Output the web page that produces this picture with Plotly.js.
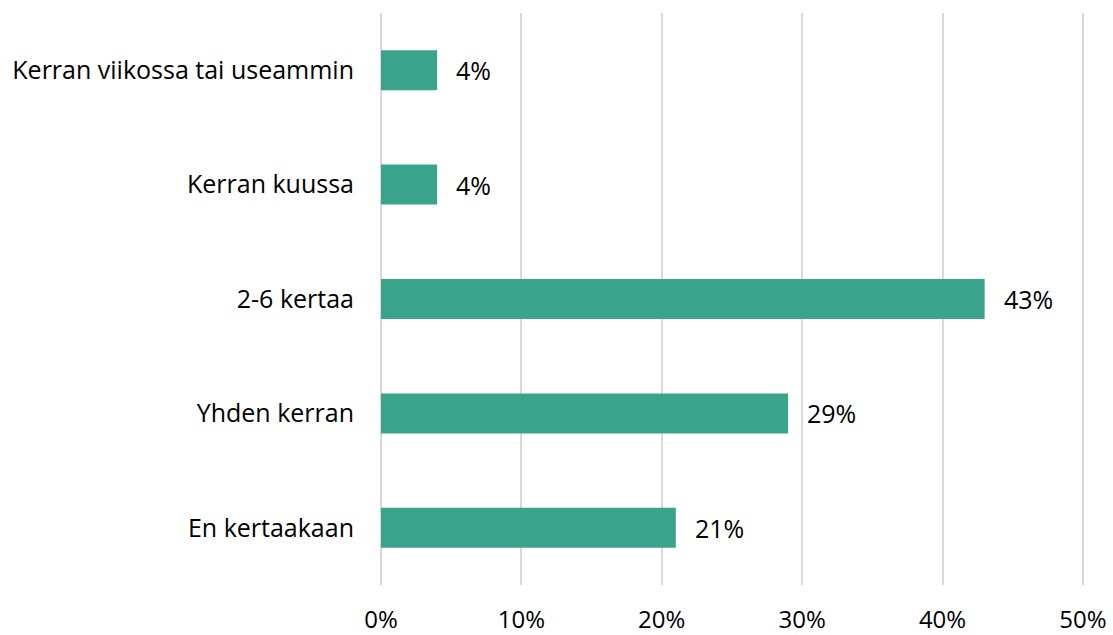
<!DOCTYPE html>
<html><head><meta charset="utf-8">
<script src="https://cdn.plot.ly/plotly-3.0.1.min.js"></script>
<style>html,body{margin:0;padding:0;background:#fff;}#chart{width:1113px;height:635px;}</style>
</head><body><div id="chart"></div>
<script>
const categories = ["Kerran viikossa tai useammin", "Kerran kuussa", "2-6 kertaa", "Yhden kerran", "En kertaakaan"];
const values = [0.04, 0.04, 0.43, 0.29, 0.21];
const valueLabels = ["4%", "4%", "43%", "29%", "21%"];
const tickVals = [0, 0.1, 0.2, 0.3, 0.4, 0.5];
const tickText = ["0%", "10%", "20%", "30%", "40%", "50%"];

const fontFam = "'Open Sans', sans-serif";
const trace = {
  type: "bar", orientation: "h",
  y: categories, x: values,
  marker: {color: "#3AA38C"},
  width: 0.35,
  hoverinfo: "skip"
};
const annotations = categories.map((c, i) => ({
  x: values[i], y: c, xref: "x", yref: "y",
  text: valueLabels[i], showarrow: false,
  xanchor: "left", yanchor: "middle", xshift: 17,
  font: {family: fontFam, size: 25, color: "#000"}
}));
const layout = {
  width: 1113, height: 635,
  margin: {l: 381, r: 28, t: 13, b: 50},
  paper_bgcolor: "#fff", plot_bgcolor: "#fff",
  font: {family: fontFam, size: 24, color: "#000"},
  showlegend: false,
  xaxis: {
    range: [0, 0.5015], tickvals: tickVals, ticktext: tickText,
    showgrid: true, gridcolor: "#d9d9d9", gridwidth: 2,
    zeroline: true, zerolinecolor: "#d9d9d9", zerolinewidth: 2,
    showline: false, ticks: "",
    tickfont: {family: fontFam, size: 24, color: "#000"},
    ticklabelstandoff: 18, fixedrange: true
  },
  yaxis: {
    autorange: "reversed", showgrid: false, zeroline: false, showline: false,
    tickfont: {family: fontFam, size: 25, color: "#000"},
    ticks: "", ticklabelstandoff: 26, fixedrange: true
  },
  annotations: annotations
};
Plotly.newPlot("chart", [trace], layout, {displayModeBar: false, staticPlot: true});
</script></body></html>
